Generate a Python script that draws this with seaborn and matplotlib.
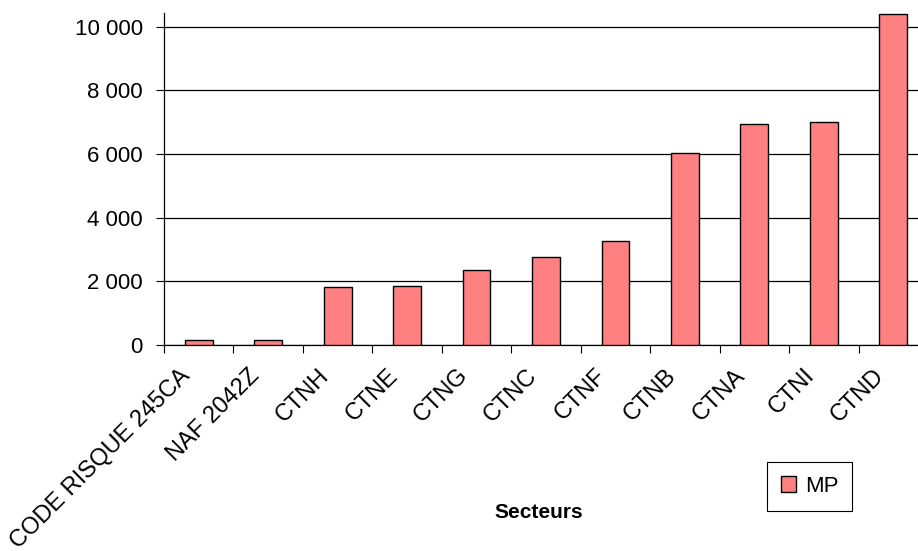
import matplotlib
matplotlib.use("Agg")
import matplotlib.pyplot as plt
import matplotlib.transforms as mtransforms
from matplotlib.patches import Patch
from matplotlib.ticker import FixedLocator, FuncFormatter
import seaborn as sns
import pandas as pd

categories = ["CODE RISQUE 245CA", "NAF 2042Z", "CTNH", "CTNE", "CTNG", "CTNC",
              "CTNF", "CTNB", "CTNA", "CTNI", "CTND"]
mp_values = [150, 150, 1810, 1860, 2350, 2760, 3270, 6030, 6930, 6990, 10400]
series_name = "MP"
x_title = "Secteurs"
y_ticks = [0, 2000, 4000, 6000, 8000, 10000]

sns.set_style("white")
plt.rcParams["font.family"] = ["Liberation Sans", "DejaVu Sans"]
plt.rcParams["text.color"] = "black"
plt.rcParams["axes.labelcolor"] = "black"
plt.rcParams["xtick.color"] = "black"
plt.rcParams["ytick.color"] = "black"

W, H = 918, 551
fig = plt.figure(figsize=(W / 100, H / 100), dpi=100)
fig.patch.set_facecolor("white")
ax = fig.add_axes([164 / W, (H - 345) / H, (928 - 164) / W, (345 - 13) / H])

df = pd.DataFrame({x_title: categories, series_name: mp_values})
sns.barplot(data=df, x=x_title, y=series_name, color="#FF8080", saturation=1,
            edgecolor="black", linewidth=1.0, width=0.4, ax=ax, zorder=3)

ax.set_xlim(-0.5, len(categories) - 0.5)
ax.set_ylim(0, 10430)

# y axis
ax.set_yticks(y_ticks)
ax.yaxis.set_major_formatter(FuncFormatter(lambda v, p: f"{v:,.0f}".replace(",", " ")))
ax.tick_params(axis="y", which="major", direction="out", length=5.8, width=0.8,
               color="black", pad=9.4, labelsize=16, labelcolor="black", left=True)
ax.yaxis.grid(True, color="black", linewidth=0.9)
ax.xaxis.grid(False)
ax.set_axisbelow(True)
ax.set_ylabel("")

# x axis: labels at category centres, tick marks at boundaries
ax.set_xticks(range(len(categories)))
ax.set_xticklabels(categories, rotation=45, ha="right", va="top",
                   rotation_mode="anchor", fontsize=17, color="black")
ax.xaxis.set_minor_locator(FixedLocator([i - 0.5 for i in range(len(categories) + 1)]))
ax.tick_params(axis="x", which="major", length=0, pad=14)
ax.tick_params(axis="x", which="minor", direction="out", length=5.8, width=0.8,
               color="black", bottom=True)

for s in ["top", "right"]:
    ax.spines[s].set_visible(False)
for s in ["left", "bottom"]:
    ax.spines[s].set_color("black")
    ax.spines[s].set_linewidth(0.9)

ax.set_xlabel(x_title, fontsize=15, fontweight="bold", color="black")
ax.xaxis.set_label_coords((539 - 164) / (928 - 164), -(512 - 345) / (345 - 13))
ax.xaxis.label.set_va("center")

offset = mtransforms.ScaledTranslation(-20 / 100, 0, fig.dpi_scale_trans)
for lab in ax.get_xticklabels():
    lab.set_transform(lab.get_transform() + offset)

leg = fig.legend(handles=[Patch(facecolor="#FF8080", edgecolor="black", label=series_name)],
                 loc="center", bbox_to_anchor=(809.5 / W, 1 - 486.5 / H),
                 frameon=True, fancybox=False, edgecolor="black", framealpha=1,
                 fontsize=16, handlelength=0.7, handleheight=0.7,
                 handletextpad=0.4, borderpad=0.62, labelcolor="black")
leg.get_frame().set_linewidth(0.8)

fig.savefig("out.png", dpi=100, facecolor="white")
